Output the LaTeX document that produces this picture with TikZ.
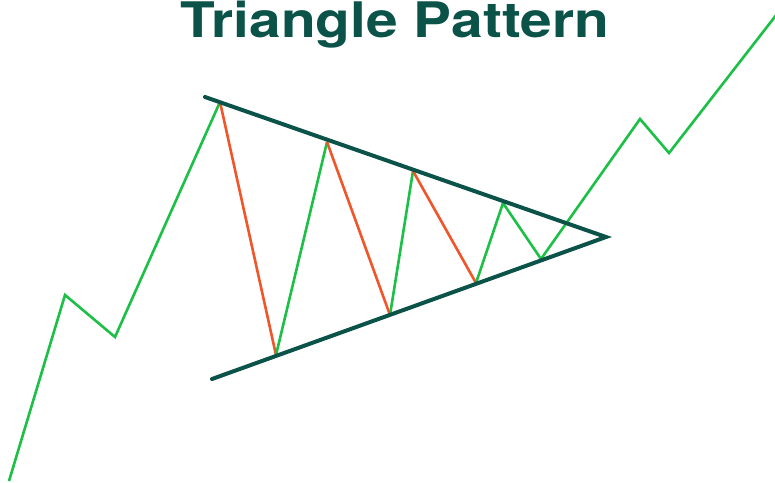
\documentclass[tikz,border=0pt]{standalone}
\usepackage{fontspec}
\setmainfont{TeX Gyre Heros}
\definecolor{dkgreen}{HTML}{0B5349}
\definecolor{upgreen}{HTML}{1CC047}
\definecolor{downred}{HTML}{F0562A}
\begin{document}
\begin{tikzpicture}[x=1pt,y=-1pt,
  trend/.style={draw=dkgreen,line width=4pt,line cap=round},
  up/.style={draw=upgreen,line width=2.6pt,line join=miter},
  down/.style={draw=downred,line width=2.6pt}]
\useasboundingbox[fill=white] (0,0) rectangle (775,482);
\node[anchor=base,text=dkgreen,font=\fontsize{49}{52}\selectfont\bfseries,inner sep=0pt] (title) at (395,37) {\scalebox{1.16}[1]{Triangle Pattern}};
% pivot coordinates
\coordinate (s) at (9,481);
\coordinate (p1) at (65,295);
\coordinate (t1) at (115,337);
\coordinate (h1) at (220,102);
\coordinate (l1) at (276,355);
\coordinate (h2) at (327,142);
\coordinate (l2) at (390,315);
\coordinate (h3) at (413,171);
\coordinate (l3) at (476,283);
\coordinate (h4) at (503,203);
\coordinate (l4) at (541,259);
\coordinate (p2) at (640,119);
\coordinate (t2) at (669,153);
\coordinate (e) at (777,14);
\coordinate (ua) at (205,97);
\coordinate (la) at (212,379);
\coordinate (apex) at (606,237);
% price path
\draw[up] (s) -- (p1) -- (t1) -- (h1);
\draw[down] (h1) -- (l1);
\draw[up] (l1) -- (h2);
\draw[down] (h2) -- (l2);
\draw[up] (l2) -- (h3);
\draw[down] (h3) -- (l3);
\draw[up] (l3) -- (h4) -- (l4) -- (p2) -- (t2) -- (e);
% trend lines
\draw[trend] (ua) -- (apex) -- (la);
\end{tikzpicture}
\end{document}
